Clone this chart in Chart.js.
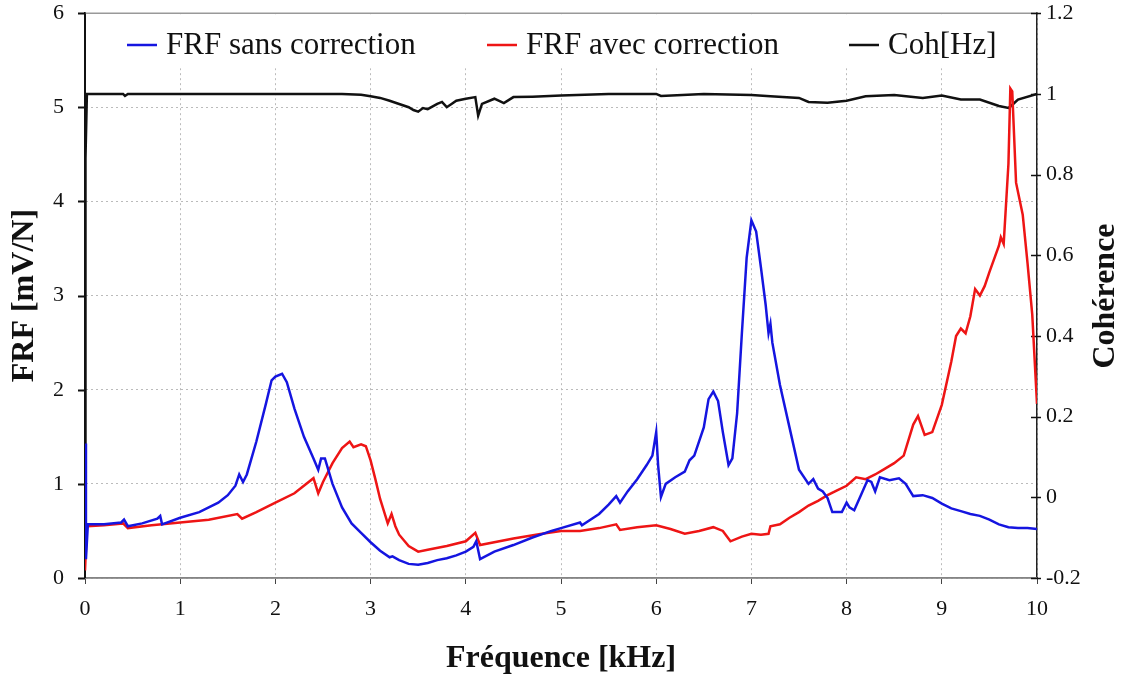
<!DOCTYPE html>
<html>
<head>
<meta charset="utf-8">
<script src="https://cdn.jsdelivr.net/npm/chart.js@4"></script>
<style>
  html, body { margin: 0; padding: 0; background: #fff; }
  #wrap { width: 1124px; height: 675px; }
</style>
</head>
<body>
<div id="wrap"><canvas id="frf"></canvas></div>
<script>
// FRF without correction (kHz, mV/N)
var freqSans = [0, 0.01, 0.03, 0.2, 0.38, 0.41, 0.45, 0.6, 0.76, 0.79, 0.81, 1.0, 1.2, 1.4, 1.5, 1.58, 1.62, 1.66, 1.7, 1.8, 1.9, 1.96, 2.0, 2.07, 2.12, 2.2, 2.3, 2.4, 2.45, 2.48, 2.52, 2.6, 2.7, 2.8, 2.9, 3.0, 3.1, 3.2, 3.23, 3.3, 3.4, 3.5, 3.6, 3.7, 3.8, 3.9, 4.0, 4.08, 4.11, 4.15, 4.3, 4.5, 4.7, 4.9, 5.0, 5.2, 5.22, 5.4, 5.5, 5.58, 5.62, 5.7, 5.8, 5.9, 5.96, 6.0, 6.02, 6.05, 6.1, 6.2, 6.3, 6.35, 6.4, 6.5, 6.55, 6.6, 6.65, 6.7, 6.76, 6.8, 6.85, 6.9, 6.95, 7.0, 7.05, 7.1, 7.15, 7.18, 7.2, 7.22, 7.3, 7.4, 7.5, 7.6, 7.65, 7.7, 7.75, 7.8, 7.85, 7.95, 8.0, 8.03, 8.08, 8.15, 8.22, 8.26, 8.3, 8.35, 8.45, 8.55, 8.62, 8.7, 8.8, 8.9, 9.0, 9.1, 9.2, 9.3, 9.4, 9.5, 9.6, 9.7, 9.8, 9.9, 10.0];
var frfSans = [1.43, 0.2, 0.57, 0.57, 0.59, 0.62, 0.55, 0.58, 0.63, 0.66, 0.57, 0.64, 0.7, 0.8, 0.88, 0.98, 1.1, 1.02, 1.1, 1.45, 1.85, 2.1, 2.14, 2.17, 2.08, 1.8, 1.5, 1.27, 1.15, 1.27, 1.27, 1.0, 0.75, 0.58, 0.48, 0.38, 0.29, 0.22, 0.23, 0.19, 0.15, 0.14, 0.16, 0.19, 0.21, 0.24, 0.28, 0.33, 0.39, 0.2, 0.28, 0.35, 0.43, 0.5, 0.53, 0.59, 0.56, 0.68, 0.78, 0.87, 0.8, 0.92, 1.05, 1.2, 1.3, 1.55, 1.2, 0.86, 1.0, 1.07, 1.13, 1.25, 1.3, 1.6, 1.9, 1.98, 1.88, 1.55, 1.2, 1.27, 1.75, 2.6, 3.4, 3.8, 3.68, 3.3, 2.9, 2.6, 2.7, 2.5, 2.05, 1.6, 1.15, 1.0, 1.05, 0.95, 0.92, 0.85, 0.7, 0.7, 0.8, 0.75, 0.72, 0.88, 1.04, 1.02, 0.92, 1.07, 1.04, 1.06, 1.0, 0.87, 0.88, 0.85, 0.79, 0.74, 0.71, 0.68, 0.66, 0.62, 0.57, 0.54, 0.53, 0.53, 0.52];

// FRF with correction (kHz, mV/N)
var freqAvec = [0, 0.02, 0.2, 0.4, 0.45, 0.7, 1.0, 1.3, 1.6, 1.65, 1.8, 2.0, 2.2, 2.4, 2.45, 2.5, 2.6, 2.7, 2.78, 2.82, 2.9, 2.95, 3.0, 3.05, 3.1, 3.18, 3.22, 3.26, 3.3, 3.4, 3.5, 3.6, 3.8, 4.0, 4.1, 4.15, 4.5, 4.8, 5.0, 5.2, 5.4, 5.58, 5.62, 5.8, 6.0, 6.15, 6.3, 6.45, 6.6, 6.7, 6.78, 6.9, 7.0, 7.1, 7.18, 7.2, 7.3, 7.4, 7.5, 7.6, 7.7, 7.8, 7.9, 8.0, 8.1, 8.2, 8.3, 8.4, 8.5, 8.6, 8.7, 8.75, 8.82, 8.9, 9.0, 9.1, 9.15, 9.2, 9.25, 9.3, 9.35, 9.4, 9.45, 9.5, 9.6, 9.62, 9.65, 9.7, 9.72, 9.74, 9.78, 9.85, 9.9, 9.95, 10.0];
var frfAvec = [0.08, 0.55, 0.56, 0.58, 0.53, 0.56, 0.59, 0.62, 0.68, 0.63, 0.7, 0.8, 0.9, 1.06, 0.9, 1.02, 1.22, 1.38, 1.45, 1.39, 1.42, 1.4, 1.25, 1.05, 0.84, 0.58, 0.68, 0.55, 0.46, 0.34, 0.28, 0.3, 0.34, 0.39, 0.48, 0.35, 0.42, 0.47, 0.5, 0.5, 0.53, 0.57, 0.51, 0.54, 0.56, 0.52, 0.47, 0.5, 0.54, 0.5, 0.39, 0.44, 0.47, 0.46, 0.47, 0.55, 0.57, 0.64, 0.7, 0.77, 0.82, 0.88, 0.93, 0.98, 1.07, 1.05, 1.1, 1.16, 1.22, 1.3, 1.63, 1.72, 1.52, 1.55, 1.84, 2.3, 2.57, 2.65, 2.6, 2.78, 3.07, 3.0, 3.1, 3.25, 3.53, 3.62, 3.55, 4.4, 5.2, 5.17, 4.2, 3.86, 3.35, 2.8, 1.85];

// coherence (right axis)
var freqCoh = [0, 0.005, 0.02, 0.4, 0.42, 0.45, 1.6, 2.7, 2.9, 3.0, 3.1, 3.2, 3.3, 3.4, 3.45, 3.5, 3.55, 3.6, 3.7, 3.75, 3.8, 3.85, 3.9, 4.0, 4.1, 4.13, 4.17, 4.3, 4.4, 4.5, 4.7, 5.0, 5.5, 6.0, 6.05, 6.5, 7.0, 7.2, 7.5, 7.6, 7.8, 8.0, 8.2, 8.5, 8.8, 9.0, 9.2, 9.4, 9.6, 9.7, 9.75, 9.8, 10.0];
var coherence = [0.0, 0.84, 1.0, 1.0, 0.995, 1.0, 1.0, 1.0, 0.998, 0.994, 0.99, 0.983, 0.975, 0.967, 0.96, 0.956, 0.965, 0.962, 0.975, 0.98, 0.967, 0.975, 0.983, 0.988, 0.992, 0.946, 0.975, 0.988, 0.977, 0.992, 0.993, 0.996, 1.0, 1.0, 0.995, 1.0, 0.997, 0.994, 0.99, 0.98, 0.978, 0.983, 0.994, 0.997, 0.99, 0.996, 0.986, 0.986, 0.97, 0.965, 0.975, 0.986, 1.0];

var legendItems = [
  { text: "FRF sans correction", color: "#1515e0", x: 127 },
  { text: "FRF avec correction", color: "#ee1515", x: 487 },
  { text: "Coh[Hz]", color: "#111111", x: 849 }
];

function pts(xs, ys) {
  return xs.map(function (x, i) { return { x: x, y: ys[i] }; });
}

var serif = "'Liberation Serif', 'Times New Roman', serif";

// legend inside the plot, and the right axis title read bottom to top
var overlay = {
  id: "overlay",
  beforeDatasetsDraw: function (chart) {
    var ctx = chart.ctx, a = chart.chartArea;
    ctx.save();
    ctx.fillStyle = "#fff";
    ctx.fillRect(a.left + 2, a.top + 1, a.right - a.left - 4, 54);
    ctx.restore();
  },
  afterDraw: function (chart) {
    var ctx = chart.ctx;
    ctx.save();
    ctx.font = "31px " + serif;
    ctx.textBaseline = "middle";
    legendItems.forEach(function (it) {
      ctx.strokeStyle = it.color;
      ctx.lineWidth = 2.5;
      ctx.beginPath();
      ctx.moveTo(it.x, 45);
      ctx.lineTo(it.x + 30, 45);
      ctx.stroke();
      ctx.fillStyle = "#111";
      ctx.fillText(it.text, it.x + 39, 46);
    });
    ctx.translate(1106, 296);
    ctx.rotate(-Math.PI / 2);
    ctx.font = "bold 32px " + serif;
    ctx.textAlign = "center";
    ctx.fillText("Cohérence", 0, 0);
    ctx.restore();
  }
};

// solid frame, short left ticks and the right ticks that cross the axis
var frame = {
  id: "frame",
  beforeDatasetsDraw: function (chart) {
    var ctx = chart.ctx, a = chart.chartArea, y = chart.scales.y, y2 = chart.scales.y2;
    ctx.save();
    ctx.strokeStyle = "#999";
    ctx.lineWidth = 1.5;
    ctx.beginPath();
    ctx.moveTo(a.left, a.top);
    ctx.lineTo(a.right, a.top);
    ctx.moveTo(a.left, a.bottom);
    ctx.lineTo(a.right, a.bottom);
    ctx.stroke();
    ctx.strokeStyle = "#111";
    ctx.lineWidth = 2;
    ctx.beginPath();
    ctx.moveTo(a.left, a.top);
    ctx.lineTo(a.left, a.bottom);
    y.ticks.forEach(function (t) {
      var py = Math.round(y.getPixelForValue(t.value)) + 0.5;
      ctx.moveTo(a.left - 7, py);
      ctx.lineTo(a.left, py);
    });
    ctx.stroke();
    ctx.lineWidth = 1.5;
    ctx.beginPath();
    y2.ticks.forEach(function (t) {
      var py = Math.round(y2.getPixelForValue(t.value)) + 0.5;
      ctx.moveTo(a.right - 6, py);
      ctx.lineTo(a.right + 4, py);
    });
    ctx.stroke();
    ctx.restore();
  }
};

new Chart(document.getElementById("frf"), {
  type: "line",
  data: {
    datasets: [
      { label: "FRF sans correction", data: pts(freqSans, frfSans), borderColor: "#1515e0", yAxisID: "y" },
      { label: "FRF avec correction", data: pts(freqAvec, frfAvec), borderColor: "#ee1515", yAxisID: "y" },
      { label: "Coh[Hz]", data: pts(freqCoh, coherence), borderColor: "#111111", yAxisID: "y2" }
    ]
  },
  options: {
    responsive: true,
    maintainAspectRatio: false,
    animation: false,
    layout: { padding: 0 },
    elements: {
      point: { radius: 0 },
      line: { borderWidth: 2.5, tension: 0 }
    },
    plugins: {
      legend: { display: false },
      tooltip: { enabled: false }
    },
    scales: {
      x: {
        type: "linear",
        min: 0,
        max: 10,
        afterFit: function (s) { s.height = 97; },
        ticks: { stepSize: 1, padding: 12, color: "#111", font: { family: serif, size: 22 } },
        grid: { color: "#bbb", tickLength: 6, tickColor: "#444" },
        border: { color: "#444", width: 1.5, dash: [2, 3] },
        title: { display: true, text: "Fréquence [kHz]", color: "#111", padding: { top: 0, bottom: 0 }, font: { family: serif, size: 32, weight: "bold", lineHeight: 1 } }
      },
      y: {
        position: "left",
        min: 0,
        max: 6,
        afterFit: function (s) { s.width = 85; },
        ticks: { stepSize: 1, padding: 0, color: "#111", font: { family: serif, size: 22 } },
        grid: { color: "#bbb", tickLength: 21, tickColor: "rgba(0,0,0,0)" },
        border: { color: "#111", width: 2, dash: [2, 3] },
        title: { display: true, text: "FRF [mV/N]", color: "#111", padding: { top: 9, bottom: 0 }, font: { family: serif, size: 32, weight: "bold", lineHeight: 1 } }
      },
      y2: {
        position: "right",
        min: -0.2,
        max: 1.2,
        afterFit: function (s) { s.width = 87; },
        ticks: {
          stepSize: 0.2, padding: 0, color: "#111", font: { family: serif, size: 22 },
          callback: function (v) { return String(Math.round(v * 10) / 10); }
        },
        grid: { drawOnChartArea: false, tickLength: 9, tickColor: "rgba(0,0,0,0)" },
        border: { color: "#222", width: 1.5 }
      }
    }
  },
  plugins: [overlay, frame]
});
</script>
</body>
</html>
